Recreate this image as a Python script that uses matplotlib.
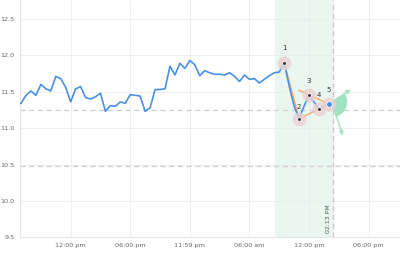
import numpy as np
import matplotlib
matplotlib.use("Agg")
import matplotlib.pyplot as plt
from matplotlib.patches import Wedge
from matplotlib.transforms import ScaledTranslation

# x in hours since the first 12:00 pm, 30 minute bars
hours = np.arange(-5.0, 26.01, 0.5)
price = [11.34, 11.45, 11.51, 11.45, 11.60, 11.54, 11.51, 11.71, 11.68, 11.56,
         11.36, 11.54, 11.57, 11.42, 11.40, 11.43, 11.48, 11.23, 11.31, 11.30,
         11.36, 11.34, 11.46, 11.45, 11.44, 11.23, 11.28, 11.53, 11.53, 11.54,
         11.85, 11.73, 11.89, 11.82, 11.93, 11.87, 11.72, 11.79, 11.76, 11.74,
         11.74, 11.73, 11.76, 11.71, 11.64, 11.73, 11.67, 11.68, 11.62, 11.67,
         11.72, 11.76, 11.77,
         11.90, 11.58, 11.30, 11.13, 11.30, 11.46, 11.36, 11.26, 11.30, 11.33]

# elliott wave pivots
wave_x = [21.5, 23.0, 24.0, 25.0, 26.0]
wave_y = [11.90, 11.13, 11.46, 11.26, 11.33]
wave_lbl = ["1", "2", "3", "4", "5"]
upper_start = (23.0, 11.52)

# horizontal levels, zone, marker time
levels = [11.25, 10.48]
zone = (20.58, 26.45)
now_x = 26.45
now_lbl = "02:13 PM"

# projection fan
fan_origin = (26.28, 11.36)
fan_up = (28.2, 11.53)
fan_down = (27.39, 10.90)

xticks = [0, 6, 11.98, 18, 24, 30]
xlabels = ["12:00 pm", "06:00 pm", "11:59 pm", "06:00 am", "12:00 pm", "06:00 pm"]
yticks = [9.5, 10.0, 10.5, 11.0, 11.5, 12.0, 12.5]

blue = "#4a90e8"
orange = "#f5a263"
green = "#9fe3c2"

fig = plt.figure(figsize=(4, 2.57), dpi=100)
ax = fig.add_axes([0.05, 0.0767, 0.95, 0.9233])
ax.set_xlim(-5.1, 33.16)
ax.set_ylim(9.5, 12.76)

ax.set_xticks(xticks)
ax.set_xticklabels(xlabels)
ax.set_yticks(yticks)
ax.set_yticklabels(["%.1f" % v for v in yticks])
ax.tick_params(length=0, labelsize=4.6, colors="#666666", pad=4)
ax.grid(True, color="#ececec", lw=0.6)
ax.set_axisbelow(True)
for s in ["top", "right"]:
    ax.spines[s].set_visible(False)
for s in ["left", "bottom"]:
    ax.spines[s].set_color("#e6e6e6")
    ax.spines[s].set_linewidth(0.8)

ax.axvspan(zone[0], zone[1], color="#eaf7f0", zorder=0.5)
for lv in levels:
    ax.axhline(lv, color="#cfcfcf", lw=0.9, ls=(0, (4, 3)), zorder=1)
ax.axvline(now_x, color="#c8c8c8", lw=0.9, ls=(0, (4, 3)), zorder=1)
ax.text(now_x - 0.25, 9.56, now_lbl, rotation=90, ha="right", va="bottom",
        fontsize=4.4, color="#555555")

ax.plot(hours, price, color=blue, lw=1.2, zorder=3)

# wave lines
ax.plot(wave_x[:2], wave_y[:2], color=orange, lw=1.0, zorder=2.8)
ax.plot([wave_x[1], wave_x[4]], [wave_y[1], wave_y[4]], color=orange, lw=1.0, zorder=2.8)
ax.plot([upper_start[0], wave_x[4]], [upper_start[1], wave_y[4]], color=orange, lw=1.0, zorder=2.8)

# fan
tr = fig.dpi_scale_trans + ScaledTranslation(fan_origin[0], fan_origin[1], ax.transData)
ax.add_patch(Wedge((0, 0), 0.155, -72, 32, transform=tr, color=green, lw=0, zorder=2.5))
for end in [fan_up, fan_down]:
    ax.annotate("", xy=end, xytext=fan_origin,
                arrowprops=dict(arrowstyle="-|>", color=green, lw=1.0,
                                mutation_scale=6, shrinkA=0, shrinkB=0),
                zorder=2.6)

# pivots
ax.plot(wave_x, wave_y, "o", ms=10, color="#ebcfcf", alpha=0.8, mec="none", zorder=4)
ax.plot(wave_x[:4], wave_y[:4], "o", ms=2.8, color="#333333", mec="white", mew=0.6, zorder=5)
ax.plot(wave_x[4], wave_y[4], "o", ms=4.2, color=blue, mec="white", mew=0.6, zorder=5)
for i, (x, y, t) in enumerate(zip(wave_x, wave_y, wave_lbl)):
    dy = 6 if i == 1 else 8
    ax.annotate(t, (x, y), xytext=(0, dy), textcoords="offset points",
                ha="center", va="bottom", fontsize=5, color="#333333", zorder=6)

fig.savefig("out.png", dpi=100)
